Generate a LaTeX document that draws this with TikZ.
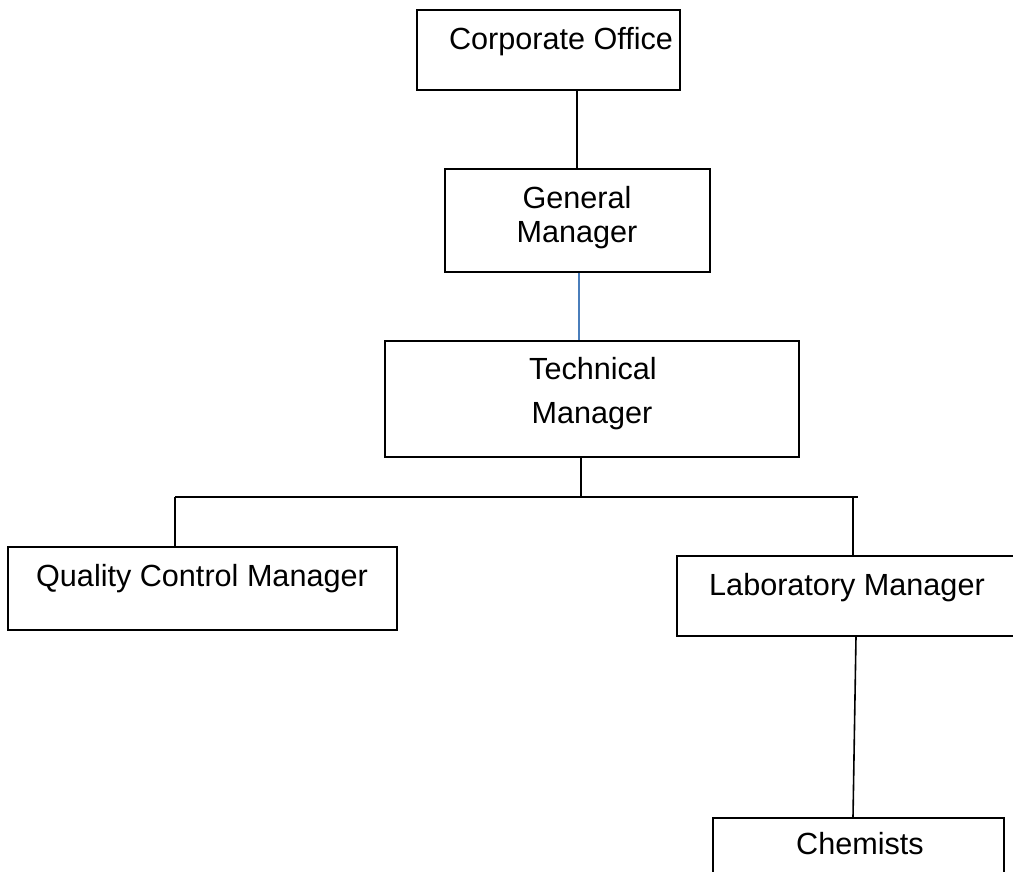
\documentclass[tikz,border=0pt]{standalone}
\usepackage{fontspec}
\setmainfont{Liberation Sans}
\begin{document}
\begin{tikzpicture}[x=1pt,y=-1pt,
  box/.style={draw=black,line width=1.6pt,inner sep=0pt,minimum width=#1},
  lbl/.style={anchor=base,inner sep=0pt,font=\fontsize{30.6}{36}\selectfont},
  conn/.style={draw=black,line width=1.6pt},
  blueconn/.style={draw={rgb,255:red,74;green,126;blue,187},line width=1.6pt}]
\useasboundingbox (0,0) rectangle (1013,872);
\clip (0,0) rectangle (1013,872);
% boxes
\node[box=263pt,minimum height=80pt] (co) at (548.5,50) {};
\node[box=265pt,minimum height=103pt] (gm) at (577.5,220.5) {};
\node[box=414pt,minimum height=116pt] (tm) at (592,399) {};
\node[box=389pt,minimum height=83pt] (qc) at (202.5,588.5) {};
\node[box=350pt,minimum height=80pt] (lm) at (852,596) {};
\node[box=291pt,minimum height=70pt] (ch) at (858.5,853) {};
% labels
\node[lbl] (coT) at (561,50) {Corporate Office};
\node[lbl] (gmT1) at (577,208) {General};
\node[lbl] (gmT2) at (577,243) {Manager};
\node[lbl] (tmT1) at (593,379) {Technical};
\node[lbl] (tmT2) at (592,423) {Manager};
\node[lbl] (qcT) at (202,586) {Quality Control Manager};
\node[lbl] (lmT) at (847,595) {Laboratory Manager};
\node[lbl] (chT) at (860,854) {Chemists};
% connector coordinates
\coordinate (x1) at (577,0);
\coordinate (x2) at (579,0);
\coordinate (x3) at (581,0);
\coordinate (bl) at (175,497);
\coordinate (br) at (858,497);
\coordinate (jr) at (853,497);
\coordinate (x4) at (856,0);
\coordinate (x5) at (853,0);
% connectors
\draw[conn] (co.south -| x1) -- (gm.north -| x1);
\draw[blueconn] (gm.south -| x2) -- (tm.north -| x2);
\draw[conn] (tm.south -| x3) -- (bl -| x3);
\draw[conn] (bl) -- (br);
\draw[conn] (bl) -- (qc.north -| bl);
\draw[conn] (jr) -- (lm.north -| jr);
\draw[conn] (lm.south -| x4) -- (ch.north -| x5);
\end{tikzpicture}
\end{document}
